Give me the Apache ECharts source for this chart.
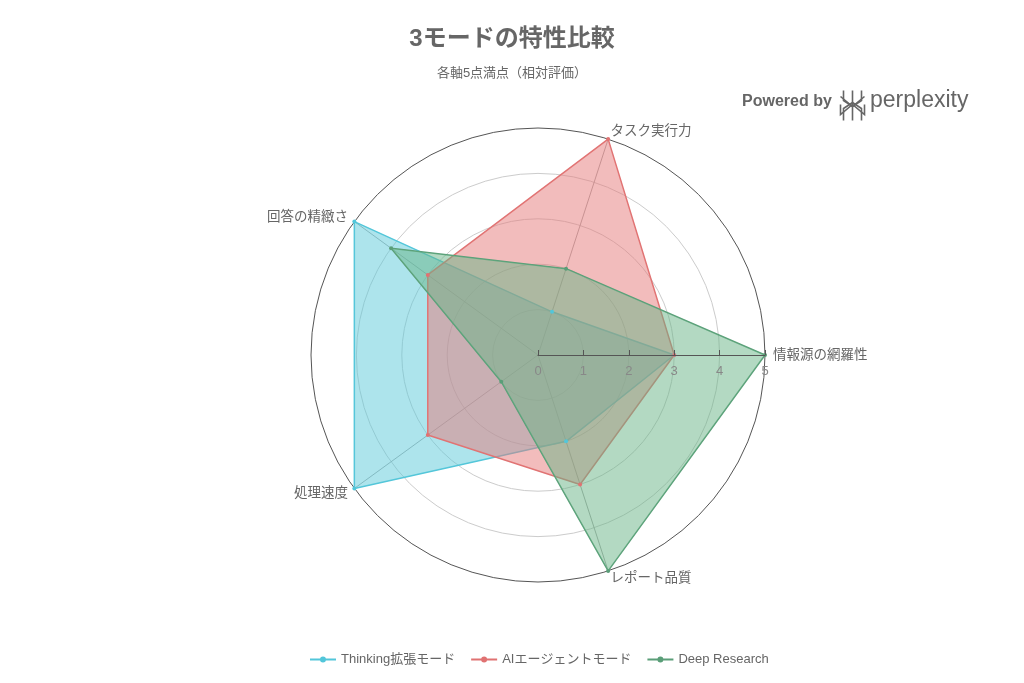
<!DOCTYPE html>
<html><head><meta charset="utf-8">
<script src="https://cdn.jsdelivr.net/npm/echarts@6/dist/echarts.min.js"></script>
<style>html,body{margin:0;padding:0;background:#fff}#c{width:1024px;height:683px}</style>
</head><body><div id="c"></div>
<script>
const indicators = ['情報源の網羅性','タスク実行力','回答の精緻さ','処理速度','レポート品質'];
const seriesNames = ['Thinking拡張モード','AIエージェントモード','Deep Research'];
const thinking = [3,1,5,5,2];
const agent = [3,5,3,3,3];
const deep = [5,2,4,1,5];
const tickLabels = ['0','1','2','3','4','5'];

const lineColors = ['#52c6da','#e07272','#5a9e78'];
const fillColors = ['rgba(91,201,217,0.5)','rgba(229,121,121,0.5)','rgba(103,179,133,0.5)'];
const values = [thinking, agent, deep];
const FONT = '"Liberation Sans", "Noto Sans CJK JP", sans-serif';

const chart = echarts.init(document.getElementById('c'));
chart.setOption({
  backgroundColor:'#fff',
  textStyle:{fontFamily:FONT},
  title:{text:'3モードの特性比較', subtext:'各軸5点満点（相対評価）', left:'center', top:22,
    itemGap:16,
    textStyle:{fontSize:24, fontWeight:'bold', color:'#666', fontFamily:FONT},
    subtextStyle:{fontSize:13, color:'#666', fontFamily:FONT}},
  legend:{bottom:12, left:305, itemWidth:26, itemHeight:8, itemGap:16,
    icon:'path://M0,4 L26,4 L26,6 L0,6 Z M13,2 A3,3 0 1,1 12.99,2 Z',
    textStyle:{color:'#666', fontSize:13, fontFamily:FONT},
    data:seriesNames},
  radar:{
    center:[538,355], radius:227, shape:'circle', splitNumber:5, startAngle:0,
    indicator: indicators.map(n=>({name:n, max:5, min:0})),
    axisName:{color:'#666', fontSize:13.5, fontFamily:FONT},
    nameGap:8,
    axisLine:{lineStyle:{color:'#aaa', width:1}},
    splitLine:{lineStyle:{color:['#ccc','#ccc','#ccc','#ccc','#ccc','#555'], width:1}},
    splitArea:{show:false},
    axisTick:{show:false}, axisLabel:{show:false}
  },
  polar:{center:[538,355], radius:227},
  angleAxis:{show:false, startAngle:0, min:0, max:360},
  radiusAxis:{min:0, max:5, interval:1, type:'value', z:10,
    axisLine:{show:true, lineStyle:{color:'#555', width:1}},
    axisTick:{show:true, length:5, lineStyle:{color:'#555'}},
    axisLabel:{show:true, color:'#888', fontSize:13, margin:-10, verticalAlign:'top',
      formatter:(v)=>tickLabels[v]},
    splitLine:{show:false}},
  series:[{
    type:'radar',
    symbol:'circle', symbolSize:4,
    data: values.map((v,i)=>({
      name:seriesNames[i], value:v,
      itemStyle:{color:lineColors[i]},
      lineStyle:{color:lineColors[i], width:1.5},
      areaStyle:{color:fillColors[i], opacity:1}
    }))
  }],
  graphic:[
    {type:'text', left:742, top:94, style:{text:'Powered by', fill:'#666', font:'bold 16px "Liberation Sans", sans-serif'}},
    {type:'group', left:838, top:88, children:[
      {type:'polyline', shape:{points:[[0,6],[12,16],[24,6]]}, style:{stroke:'#666', lineWidth:1.6, fill:null}},
      {type:'polyline', shape:{points:[[3,0],[3,10],[12,16],[21,10],[21,0]]}, style:{stroke:'#666', lineWidth:1.6, fill:null}},
      {type:'line', shape:{x1:12,y1:0,x2:12,y2:30}, style:{stroke:'#666', lineWidth:1.6}},
      {type:'polyline', shape:{points:[[3,30],[3,18],[12,12],[21,18],[21,30]]}, style:{stroke:'#666', lineWidth:1.6, fill:null}},
      {type:'polyline', shape:{points:[[0,14],[0,24],[12,14],[24,24],[24,14]]}, style:{stroke:'#666', lineWidth:1.6, fill:null}}
    ]},
    {type:'text', left:870, top:89, style:{text:'perplexity', fill:'#666', font:'23px "Liberation Sans", sans-serif'}}
  ]
});
</script></body></html>
